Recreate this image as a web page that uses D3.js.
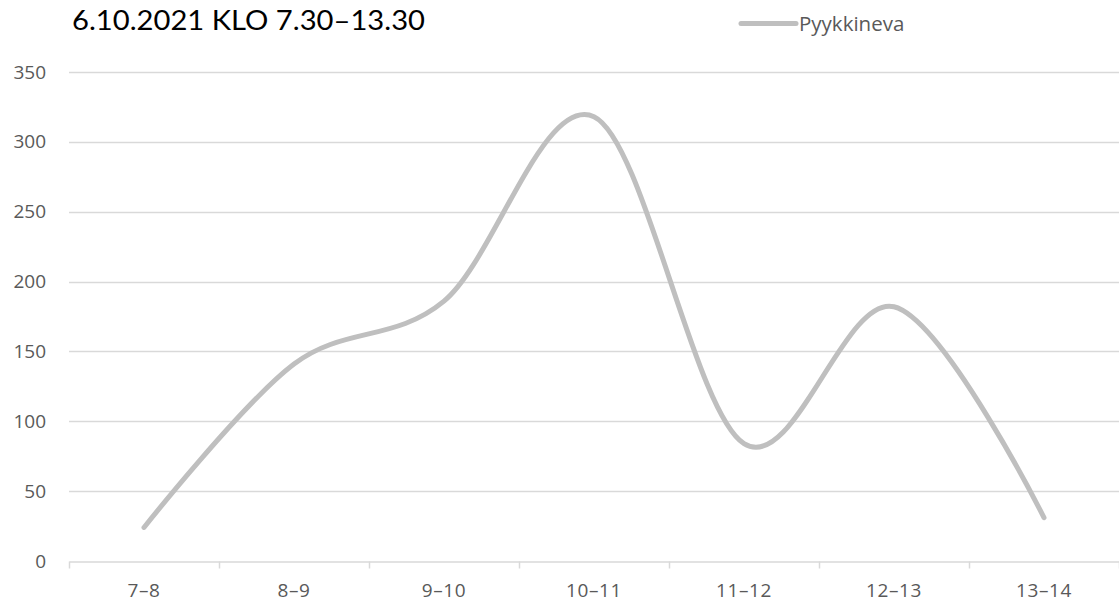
<!DOCTYPE html>
<html>
<head>
<meta charset="utf-8">
<script src="https://cdn.jsdelivr.net/npm/d3@7/dist/d3.min.js"></script>
<style>
  html, body { margin: 0; padding: 0; background: #fff; }
  svg { display: block; }
</style>
</head>
<body>
<svg id="chart" width="1119" height="606"></svg>
<script>
// Hourly counts for one day
const chartTitle = "6.10.2021 KLO 7.30–13.30";
const seriesName = "Pyykkineva";
const categories = ["7–8", "8–9", "9–10", "10–11", "11–12", "12–13", "13–14"];
const values = [24, 141, 186, 318, 84, 182, 31];
const yTicks = [0, 50, 100, 150, 200, 250, 300, 350];

const width = 1119, height = 606;
const margin = { top: 72, right: 0, bottom: 45, left: 69 };

const svg = d3.select("#chart");

const x = d3.scaleBand()
  .domain(categories)
  .range([margin.left, width - margin.right])
  .paddingInner(0).paddingOuter(0);

const y = d3.scaleLinear()
  .domain([0, 350])
  .range([height - margin.bottom, margin.top]);

const labelFont = "'Open Sans', 'Noto Sans', sans-serif";
const textColor = "#595959";
const gridColor = "#d9d9d9";
const lineColor = "#bfbfbf";

// Horizontal gridlines
svg.append("g")
  .selectAll("line")
  .data(yTicks.filter(d => d > 0))
  .join("line")
  .attr("x1", margin.left)
  .attr("x2", width - margin.right)
  .attr("y1", d => Math.round(y(d)) + 0.5)
  .attr("y2", d => Math.round(y(d)) + 0.5)
  .attr("stroke", gridColor)
  .attr("stroke-width", 1.5);

// Y axis labels
const yAxis = d3.axisLeft(y).tickValues(yTicks).tickSize(0).tickPadding(23);
const gy = svg.append("g")
  .attr("transform", `translate(${margin.left},0)`)
  .call(yAxis);
gy.select(".domain").remove();
gy.selectAll("text")
  .attr("fill", textColor)
  .style("font-family", labelFont)
  .style("font-size", "19px");

// X axis with tick marks between categories
const xAxis = d3.axisBottom(x).tickSize(0).tickPadding(22);
const gx = svg.append("g")
  .attr("transform", `translate(0,${Math.round(y(0)) + 0.5})`)
  .call(xAxis);
gx.select(".domain").attr("stroke", gridColor).attr("stroke-width", 1.5);
gx.selectAll("text")
  .attr("fill", textColor)
  .style("font-family", labelFont)
  .style("font-size", "19px")
  .style("letter-spacing", "0.6px");

const boundaries = categories.map(c => x(c)).concat([x(categories[categories.length - 1]) + x.bandwidth()]);
gx.append("g")
  .selectAll("line")
  .data(boundaries)
  .join("line")
  .attr("x1", d => Math.round(d) + 0.5)
  .attr("x2", d => Math.round(d) + 0.5)
  .attr("y1", 0)
  .attr("y2", 7)
  .attr("stroke", gridColor)
  .attr("stroke-width", 1.5);

// Smoothed series line
const line = d3.line()
  .x((d, i) => x(categories[i]) + x.bandwidth() / 2)
  .y(d => y(d))
  .curve(d3.curveCardinal.tension(0));

svg.append("path")
  .datum(values)
  .attr("d", line)
  .attr("fill", "none")
  .attr("stroke", lineColor)
  .attr("stroke-width", 5)
  .attr("stroke-linecap", "round")
  .attr("stroke-linejoin", "round");

// Title
svg.append("text")
  .attr("x", 72)
  .attr("y", 30)
  .attr("fill", "#000")
  .style("font-family", "'Lato', 'Noto Sans', sans-serif")
  .style("font-size", "26px")
  .attr("textLength", 353)
  .attr("lengthAdjust", "spacingAndGlyphs")
  .text(chartTitle);

// Legend
const legend = svg.append("g");
legend.append("line")
  .attr("x1", 741).attr("x2", 796)
  .attr("y1", 23.5).attr("y2", 23.5)
  .attr("stroke", lineColor)
  .attr("stroke-width", 5)
  .attr("stroke-linecap", "round");
legend.append("text")
  .attr("x", 799)
  .attr("y", 31)
  .attr("fill", textColor)
  .style("font-family", labelFont)
  .style("font-size", "20.5px")
  .text(seriesName);
</script>
</body>
</html>
